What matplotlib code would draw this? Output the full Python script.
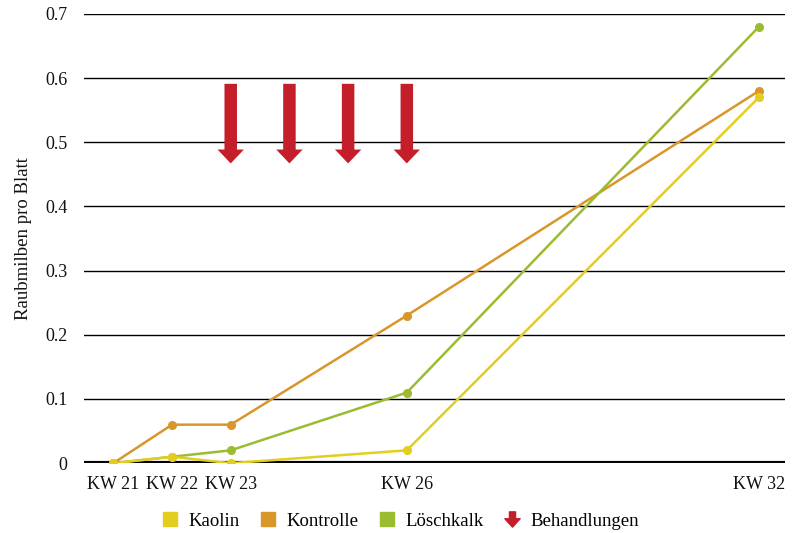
import numpy as np
import matplotlib.pyplot as plt
from matplotlib.lines import Line2D
from matplotlib.path import Path

plt.rcParams['font.family'] = ['Liberation Serif', 'DejaVu Serif']

weeks = [21, 22, 23, 26, 32]
week_labels = ['KW 21', 'KW 22', 'KW 23', 'KW 26', 'KW 32']
kaolin = [0.0, 0.01, 0.0, 0.02, 0.57]
kontrolle = [0.0, 0.06, 0.06, 0.23, 0.58]
loeschkalk = [0.0, 0.01, 0.02, 0.11, 0.68]
treatment_weeks = [23, 24, 25, 26]
arrow_top = 0.591
arrow_tip = 0.467

c_kaolin = '#e3cd1f'
c_kontrolle = '#d9962b'
c_kalk = '#9bbb30'
c_arrow = '#c41e2a'

fig = plt.figure(figsize=(8, 5.33), dpi=100)
ax = fig.add_axes([0.105, 0.131, 0.876, 0.843])

for y in np.arange(0.1, 0.71, 0.1):
    ax.axhline(y, color='black', lw=1.0, zorder=1)
ax.axhline(0, color='black', lw=3.0, zorder=2)

ax.plot(weeks, kontrolle, color=c_kontrolle, lw=1.8, marker='o', ms=5.5, zorder=3)
ax.plot(weeks, loeschkalk, color=c_kalk, lw=1.8, marker='o', ms=5.5, zorder=4)
ax.plot(weeks, kaolin, color=c_kaolin, lw=1.8, marker='o', ms=5.5, zorder=5)

# treatment arrows
for w in treatment_weeks:
    ax.annotate('', xy=(w, arrow_tip), xytext=(w, arrow_top),
                arrowprops=dict(facecolor=c_arrow, edgecolor='none',
                                width=9, headwidth=19, headlength=10,
                                shrink=0),
                zorder=6)

ax.set_xlim(20.5, 32.44)
ax.set_ylim(0, 0.7)
ax.set_xticks(weeks)
ax.set_xticklabels(week_labels)
ax.set_yticks(np.arange(0, 0.71, 0.1))
ax.set_yticklabels(['0', '0.1', '0.2', '0.3', '0.4', '0.5', '0.6', '0.7'])
ax.tick_params(length=0, labelsize=13, colors='#111111')
ax.tick_params(axis='y', pad=12)
ax.tick_params(axis='x', pad=9)
for s in ax.spines.values():
    s.set_visible(False)
ax.set_ylabel('Raubmilben pro Blatt', fontsize=13.5, labelpad=9, color='#111111')

arrow_marker = Path([(-0.2, 0.5), (0.2, 0.5), (0.2, 0.05), (0.5, 0.05), (0.0, -0.5),
                     (-0.5, 0.05), (-0.2, 0.05), (-0.2, 0.5)],
                    [Path.MOVETO] + [Path.LINETO] * 6 + [Path.CLOSEPOLY])
handles = [
    Line2D([], [], ls='none', marker='s', ms=10, color=c_kaolin, label='Kaolin'),
    Line2D([], [], ls='none', marker='s', ms=10, color=c_kontrolle, label='Kontrolle'),
    Line2D([], [], ls='none', marker='s', ms=10, color=c_kalk, label='Löschkalk'),
    Line2D([], [], ls='none', marker=arrow_marker, ms=11, color=c_arrow, label='Behandlungen'),
]
fig.legend(handles=handles, loc='center', bbox_to_anchor=(0.5, 0.022), ncol=4,
           frameon=False, handlelength=1.0, handletextpad=0.5,
           columnspacing=1.0, prop={'size': 13.5})

fig.savefig('out.png', dpi=100)
